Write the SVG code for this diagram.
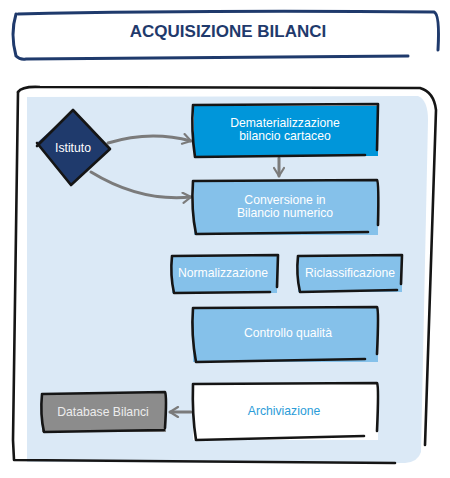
<svg xmlns="http://www.w3.org/2000/svg" width="450" height="478" viewBox="0 0 450 478">
<style>
.ink{fill:none;stroke:#151515;stroke-width:2.6;stroke-linecap:round;stroke-linejoin:round}
.lbl{font-family:"Liberation Sans",Arial,sans-serif;font-size:12.2px;fill:#ffffff;text-anchor:middle}
.conn{fill:none;stroke:#7b7b7b;stroke-width:3;stroke-linecap:round}
</style>
<defs>
<marker id="ah" viewBox="0 0 12 12" refX="10" refY="6" markerWidth="4" markerHeight="4" orient="auto" markerUnits="strokeWidth">
<path d="M2,1 L10,6 L2,11" fill="none" stroke="#7b7b7b" stroke-width="2.2" stroke-linecap="round" stroke-linejoin="round"/>
</marker>
</defs>
<rect width="450" height="478" fill="#ffffff"/>
<g id="title">
<path d="M18,14 Q200,10 434,12 Q440,14 438,50" fill="none" stroke="#1f3a6c" stroke-width="3" stroke-linecap="round"/>
<path d="M16,14 Q10,34 16,56 Q20,60 26,59 Q220,58 408,56" fill="none" stroke="#1f3a6c" stroke-width="3" stroke-linecap="round"/>
<text x="228" y="37" font-family="Liberation Sans,Arial,sans-serif" font-size="17" font-weight="bold" fill="#1f3a6c" text-anchor="middle">ACQUISIZIONE BILANCI</text>
</g>
<g id="frame">
<path d="M27,97 L418,96 Q428,100 428,120 L421,452 Q418,462 405,463 L27,462 Z" fill="#dbe9f6"/>
<path class="ink" d="M18,92 Q22,86 40,87 L420,88 Q434,92 436,110 L425,445"/>
<path class="ink" d="M18,92 L13,440 L14,460 L395,463"/>
</g>
<g id="connectors">
<path class="conn" d="M108,143 Q150,130 191,141" marker-end="url(#ah)"/>
<path class="conn" d="M91,172 Q140,202 191,197" marker-end="url(#ah)"/>
<path class="conn" d="M279,158 L279,176" marker-end="url(#ah)"/>
<path class="conn" d="M191,412 L170,412" marker-end="url(#ah)"/>
</g>
<g id="istituto">
<path d="M73,110 L110,149 L70,185 L37,143 Z" fill="#1f3a6c"/>
<path class="ink" d="M37,146 L73,110 L110,149 L71,185 L37,143"/>
<text class="lbl" x="73" y="152">Istituto</text>
</g>
<g id="dematerializzazione">
<rect x="194" y="106" width="184" height="50" fill="#0096da"/>
<path class="ink" d="M193,105 L378,104 L377,150 M193,105 Q191,130 195,157 L365,155"/>
<text class="lbl" x="285" y="127">Dematerializzazione</text>
<text class="lbl" x="285" y="140">bilancio cartaceo</text>
</g>
<g id="conversione">
<rect x="194" y="181" width="184" height="54" fill="#85c1ea"/>
<path class="ink" d="M193,181 L377,180 Q379,182 378,225 M193,181 Q191,210 196,234 L368,232"/>
<text class="lbl" x="285" y="204">Conversione in</text>
<text class="lbl" x="285" y="217">Bilancio numerico</text>
</g>
<g id="normalizzazione">
<rect x="172" y="256" width="105" height="37" fill="#85c1ea"/>
<path class="ink" d="M172,256 L278,255 L277,287 M172,256 Q170,275 174,293 L270,292"/>
<text class="lbl" x="223" y="277">Normalizzazione</text>
</g>
<g id="riclassificazione">
<rect x="298" y="256" width="104" height="36" fill="#85c1ea"/>
<path class="ink" d="M298,256 L402,255 L401,284 M298,256 Q296,275 300,292 L397,290"/>
<text class="lbl" x="350" y="277">Riclassificazione</text>
</g>
<g id="controllo">
<rect x="193" y="308" width="185" height="54" fill="#85c1ea"/>
<path class="ink" d="M193,308 L377,307 Q379,310 377,354 M193,308 Q191,335 196,362 L365,359"/>
<text class="lbl" x="288" y="337">Controllo qualità</text>
</g>
<g id="archiviazione">
<rect x="193" y="384" width="185" height="56" fill="#ffffff"/>
<path class="ink" d="M193,384 L377,383 Q379,386 377,431 M193,384 Q192,415 196,440 L364,436"/>
<text class="lbl" x="284" y="415" style="fill:#2b9cd8">Archiviazione</text>
</g>
<g id="database">
<rect x="42" y="393" width="124" height="39" fill="#8c8c8c"/>
<path class="ink" d="M42,394 L165,392 Q167,396 165,428 M42,394 Q40,415 44,432 L164,430"/>
<text class="lbl" x="103" y="416" style="fill:#ececec">Database Bilanci</text>
</g>
</svg>
